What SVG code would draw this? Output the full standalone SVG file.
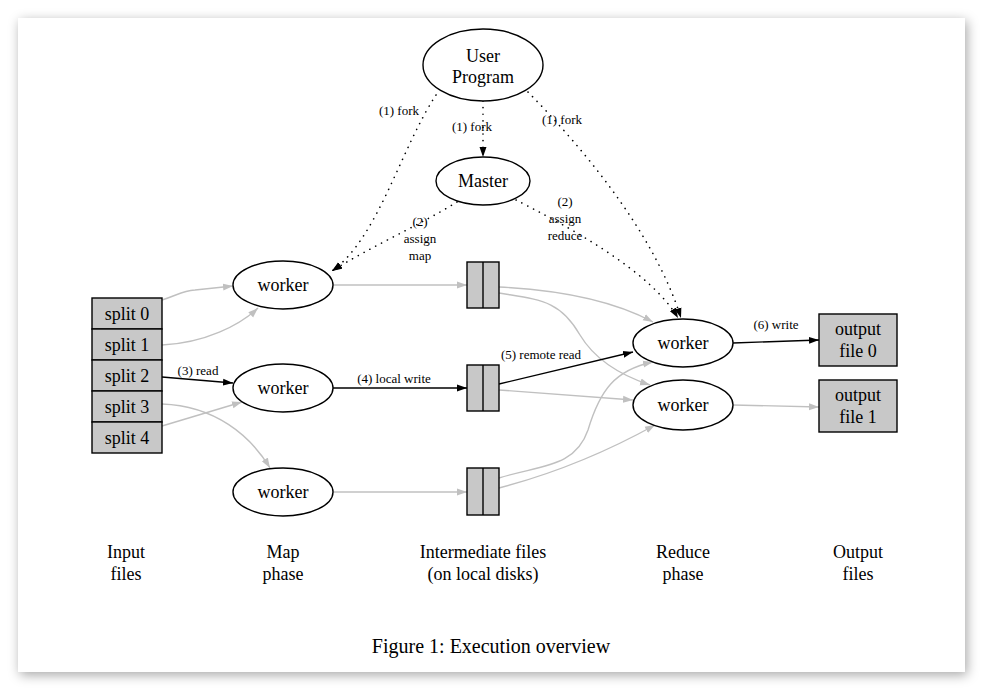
<svg xmlns="http://www.w3.org/2000/svg" width="983" height="691" viewBox="0 0 983 691">
<defs>
  <filter id="shadow" x="-10%" y="-10%" width="120%" height="120%">
    <feDropShadow dx="2" dy="3" stdDeviation="6" flood-color="#000" flood-opacity="0.35"/>
  </filter>
  <marker id="ab" markerUnits="userSpaceOnUse" markerWidth="11" markerHeight="8" refX="10" refY="4" orient="auto">
    <path d="M0,0.5 L10,4 L0,7.5 z" fill="#000"/>
  </marker>
  <marker id="ag" markerUnits="userSpaceOnUse" markerWidth="11" markerHeight="8" refX="10" refY="4" orient="auto">
    <path d="M0,0.5 L10,4 L0,7.5 z" fill="#c0c0c0"/>
  </marker>
</defs>
<style>
  .node { fill: #fff; stroke: #000; stroke-width: 1.4; }
  .box { fill: #c8c8c8; stroke: #000; stroke-width: 1.4; }
  .t { font-family: "Liberation Serif", "Times New Roman", serif; font-size: 18px; text-anchor: middle; fill: #000; }
  .l { font-family: "Liberation Serif", "Times New Roman", serif; font-size: 13px; text-anchor: middle; fill: #000; }
  .cap { font-family: "Liberation Serif", "Times New Roman", serif; font-size: 20px; text-anchor: middle; fill: #000; }
  .g { fill: none; stroke: #c0c0c0; stroke-width: 1.4; marker-end: url(#ag); }
  .b { fill: none; stroke: #000; stroke-width: 1.4; marker-end: url(#ab); }
  .d { fill: none; stroke: #000; stroke-width: 1.6; stroke-dasharray: 0.1 6.5; stroke-linecap: round; marker-end: url(#ab); }
</style>
<rect x="0" y="0" width="983" height="691" fill="#fff"/>
<rect x="18" y="18" width="947" height="654" fill="#fff" filter="url(#shadow)"/>

<g id="connectors">
  <path class="d" d="M436,95 C400,150 378,238 332,271"/>
  <path class="d" d="M457,202 C420,225 370,247 332,271"/>
  <path class="d" d="M483,101 L483,157"/>
  <path class="d" d="M528,92 C585,150 655,235 681,318"/>
  <path class="d" d="M516,200 C565,225 650,270 678,318"/>

  <path class="g" d="M162,300 C178,295 182,291 195,290 L233,286"/>
  <path class="g" d="M162,345 C205,343 240,325 258,308"/>
  <path class="b" d="M162,377 L233,383"/>
  <path class="g" d="M162,404 C215,406 250,435 270,468"/>
  <path class="g" d="M162,426 L242,402"/>

  <path class="g" d="M333,285 L467,285"/>
  <path class="b" d="M333,388 L467,388"/>
  <path class="g" d="M333,492 L467,492"/>

  <path class="g" d="M499,287 C560,290 612,300 653,322"/>
  <path class="g" d="M499,293 C540,300 560,300 580,335 C595,360 620,375 650,385"/>
  <path class="b" d="M499,384 L633,352"/>
  <path class="g" d="M499,390 L633,400"/>
  <path class="g" d="M499,478 C540,465 575,468 588,430 C600,390 615,370 653,362"/>
  <path class="g" d="M499,488 C560,472 610,450 655,425"/>

  <path class="b" d="M733,343 L819,340"/>
  <path class="g" d="M733,405 L819,407"/>

  <text class="l" x="399" y="115">(1) fork</text>
  <text class="l" x="472" y="131">(1) fork</text>
  <text class="l" x="562" y="124">(1) fork</text>
  <text class="l" x="420" y="226">(2)</text>
  <text class="l" x="420" y="243">assign</text>
  <text class="l" x="420" y="260">map</text>
  <text class="l" x="565" y="206">(2)</text>
  <text class="l" x="565" y="223">assign</text>
  <text class="l" x="565" y="240">reduce</text>
  <text class="l" x="198" y="375">(3) read</text>
  <text class="l" x="394" y="383">(4) local write</text>
  <text class="l" x="541" y="359">(5) remote read</text>
  <text class="l" x="776" y="329">(6) write</text>
</g>

<g id="user-program">
  <ellipse class="node" cx="483" cy="65" rx="60" ry="36"/>
  <text class="t" x="483" y="62">User</text>
  <text class="t" x="483" y="83">Program</text>
</g>
<g id="master">
  <ellipse class="node" cx="483" cy="181" rx="47" ry="24"/>
  <text class="t" x="483" y="187">Master</text>
</g>

<g id="splits">
  <rect class="box" x="92" y="298" width="70" height="31"/>
  <text class="t" x="127" y="320">split 0</text>
  <rect class="box" x="92" y="329" width="70" height="31"/>
  <text class="t" x="127" y="351">split 1</text>
  <rect class="box" x="92" y="360" width="70" height="31"/>
  <text class="t" x="127" y="382">split 2</text>
  <rect class="box" x="92" y="391" width="70" height="31"/>
  <text class="t" x="127" y="413">split 3</text>
  <rect class="box" x="92" y="422" width="70" height="31"/>
  <text class="t" x="127" y="444">split 4</text>
</g>

<g id="map-worker-1">
  <ellipse class="node" cx="283" cy="285" rx="50" ry="24"/>
  <text class="t" x="283" y="291">worker</text>
</g>
<g id="map-worker-2">
  <ellipse class="node" cx="283" cy="388" rx="50" ry="24"/>
  <text class="t" x="283" y="394">worker</text>
</g>
<g id="map-worker-3">
  <ellipse class="node" cx="283" cy="492" rx="50" ry="24"/>
  <text class="t" x="283" y="498">worker</text>
</g>

<g id="inter-1">
  <rect class="box" x="467" y="262" width="32" height="46"/>
  <line x1="483" y1="262" x2="483" y2="308" stroke="#000" stroke-width="1.4"/>
</g>
<g id="inter-2">
  <rect class="box" x="467" y="365" width="32" height="46"/>
  <line x1="483" y1="365" x2="483" y2="411" stroke="#000" stroke-width="1.4"/>
</g>
<g id="inter-3">
  <rect class="box" x="467" y="468" width="32" height="47"/>
  <line x1="483" y1="468" x2="483" y2="515" stroke="#000" stroke-width="1.4"/>
</g>

<g id="reduce-worker-1">
  <ellipse class="node" cx="683" cy="343" rx="50" ry="24"/>
  <text class="t" x="683" y="349">worker</text>
</g>
<g id="reduce-worker-2">
  <ellipse class="node" cx="683" cy="405" rx="50" ry="25"/>
  <text class="t" x="683" y="411">worker</text>
</g>

<g id="output-0">
  <rect class="box" x="819" y="314" width="78" height="52"/>
  <text class="t" x="858" y="335">output</text>
  <text class="t" x="858" y="357">file 0</text>
</g>
<g id="output-1">
  <rect class="box" x="819" y="380" width="78" height="52"/>
  <text class="t" x="858" y="401">output</text>
  <text class="t" x="858" y="423">file 1</text>
</g>

<g id="phase-labels">
  <text class="t" x="126" y="558">Input</text>
  <text class="t" x="126" y="580">files</text>
  <text class="t" x="283" y="558">Map</text>
  <text class="t" x="283" y="580">phase</text>
  <text class="t" x="483" y="558">Intermediate files</text>
  <text class="t" x="483" y="580">(on local disks)</text>
  <text class="t" x="683" y="558">Reduce</text>
  <text class="t" x="683" y="580">phase</text>
  <text class="t" x="858" y="558">Output</text>
  <text class="t" x="858" y="580">files</text>
</g>
<text class="cap" x="491" y="653">Figure 1: Execution overview</text>
</svg>
